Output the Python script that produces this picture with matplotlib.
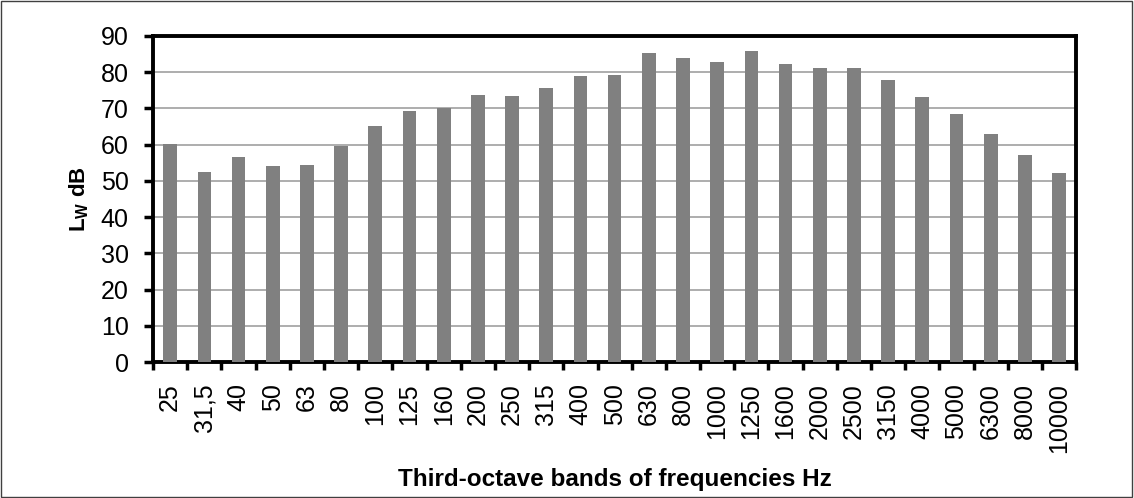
import matplotlib.pyplot as plt
import numpy as np

# third-octave bands
bands = ['25', '31,5', '40', '50', '63', '80', '100', '125', '160', '200', '250',
         '315', '400', '500', '630', '800', '1000', '1250', '1600', '2000',
         '2500', '3150', '4000', '5000', '6300', '8000', '10000']
lw_db = [60.1, 52.5, 56.6, 54.1, 54.3, 59.6, 65.2, 69.2, 70.1, 73.6, 73.3,
         75.7, 78.8, 79.1, 85.4, 83.9, 82.9, 85.7, 82.1, 81.1,
         81.0, 77.8, 73.2, 68.4, 62.9, 57.1, 52.1]

plt.rcParams['font.family'] = ['Liberation Sans', 'DejaVu Sans']
plt.rcParams['mathtext.fontset'] = 'custom'
plt.rcParams['mathtext.rm'] = 'Liberation Sans'
plt.rcParams['mathtext.bf'] = 'Liberation Sans:bold'

fig = plt.figure(figsize=(11.34, 4.98), dpi=100)
ax = fig.add_axes([0.135, 0.273, 0.814, 0.655])

x = np.arange(len(bands))
ax.bar(x, lw_db, width=0.4, color='#808080', zorder=3)

ax.set_xlim(-0.5, len(bands) - 0.5)
ax.set_ylim(0, 90)
ax.set_yticks(np.arange(0, 91, 10))
ax.yaxis.grid(True, color='#a0a0a0', linewidth=1.2, zorder=0)

ax.set_xticks(x)
ax.set_xticklabels(bands, rotation=90)
ax.set_xticks(np.arange(-0.5, len(bands)), minor=True)
ax.tick_params(axis='x', which='major', length=0, labelsize=18, pad=15)
ax.tick_params(axis='x', which='minor', length=5.5, width=2.5, direction='out')
ax.tick_params(axis='y', length=6.5, width=2.5, labelsize=18, pad=11)

for s in ax.spines.values():
    s.set_linewidth(2.8)

ax.set_ylabel(r'$\mathbf{L_W}$ dB', fontsize=16, fontweight='bold', labelpad=7)
ax.set_xlabel('Third-octave bands of frequencies Hz', fontsize=17.5,
              fontweight='bold', labelpad=11)

# outer frame
fig.patches.append(plt.Rectangle((0.001, 0.002), 0.997, 0.996, transform=fig.transFigure,
                                 fill=False, edgecolor='#404040', linewidth=1))

fig.savefig('out.png', dpi=100)
